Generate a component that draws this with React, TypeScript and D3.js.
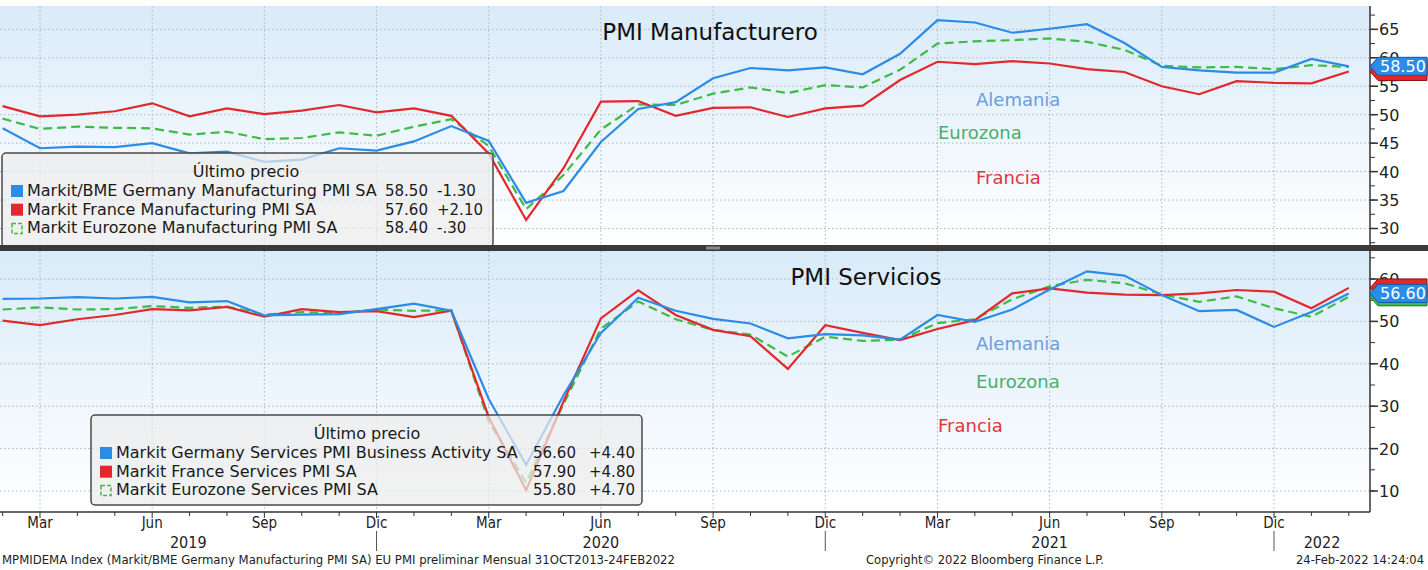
import React from "react";
import * as d3 from "d3";

// months Feb 2019 .. Feb 2022
const monthNames = ["Ene", "Feb", "Mar", "Abr", "May", "Jun", "Jul", "Ago", "Sep", "Oct", "Nov", "Dic"];
const firstMonth = 1; // Feb 2019
const yearLabels = ["2019", "2020", "2021", "2022"];

// PMI Manufacturero
const deMfg = [47.6, 44.1, 44.4, 44.3, 45.0, 43.2, 43.5, 41.7, 42.1, 44.1, 43.7,
  45.3, 48.0, 45.4, 34.5, 36.6, 45.2, 51.0, 52.2, 56.4, 58.2, 57.8, 58.3,
  57.1, 60.7, 66.6, 66.2, 64.4, 65.1, 65.9, 62.6, 58.4, 57.8, 57.4, 57.4,
  59.8, 58.5];
const frMfg = [51.5, 49.7, 50.0, 50.6, 52.0, 49.7, 51.1, 50.1, 50.7, 51.7, 50.4,
  51.1, 49.8, 43.2, 31.5, 40.6, 52.3, 52.4, 49.8, 51.2, 51.3, 49.6, 51.1,
  51.6, 56.1, 59.3, 58.9, 59.4, 59.0, 58.0, 57.5, 55.0, 53.6, 55.9, 55.6,
  55.5, 57.6];
const euMfg = [49.3, 47.5, 47.9, 47.7, 47.6, 46.5, 47.0, 45.7, 45.9, 46.9, 46.3,
  47.9, 49.2, 44.5, 33.4, 39.4, 47.4, 51.8, 51.7, 53.7, 54.8, 53.8, 55.2,
  54.8, 57.9, 62.5, 62.9, 63.1, 63.4, 62.8, 61.4, 58.6, 58.3, 58.4, 58.0,
  58.7, 58.4];

// PMI Servicios
const deSvc = [55.3, 55.4, 55.7, 55.4, 55.8, 54.5, 54.8, 51.4, 51.6, 51.7, 52.9,
  54.2, 52.5, 31.7, 16.2, 32.6, 47.3, 55.6, 52.5, 50.6, 49.5, 46.0, 47.0,
  46.7, 45.7, 51.5, 49.9, 52.8, 57.5, 61.8, 60.8, 56.2, 52.4, 52.7, 48.7,
  52.2, 56.6];
const frSvc = [50.2, 49.1, 50.5, 51.5, 52.9, 52.6, 53.4, 51.1, 52.9, 52.2, 52.4,
  51.0, 52.5, 27.4, 10.2, 31.1, 50.7, 57.3, 51.5, 48.0, 46.5, 38.8, 49.1,
  47.3, 45.6, 48.2, 50.3, 56.6, 57.8, 56.8, 56.3, 56.2, 56.6, 57.4, 57.0,
  53.1, 57.9];
const euSvc = [52.8, 53.3, 52.8, 52.9, 53.6, 53.2, 53.5, 51.6, 52.2, 51.9, 52.8,
  52.5, 52.6, 26.4, 12.0, 30.5, 48.3, 54.7, 50.5, 48.0, 46.9, 41.7, 46.4,
  45.4, 45.7, 49.6, 50.5, 55.2, 58.3, 59.8, 59.0, 56.4, 54.6, 55.9, 53.1,
  51.1, 55.8];

const mfgNames = ["Markit/BME Germany Manufacturing PMI SA", "Markit France Manufacturing PMI SA", "Markit Eurozone Manufacturing PMI SA"];
const svcNames = ["Markit Germany Services PMI Business Activity SA", "Markit France Services PMI SA", "Markit Eurozone Services PMI SA"];
const labelNames = ["Alemania", "Francia", "Eurozona"];

const mfgTicks = [30, 35, 40, 45, 50, 55, 60, 65];
const svcTicks = [10, 20, 30, 40, 50, 60];

const BLUE = "#2b8ce6";
const RED = "#e3282b";
const GREEN = "#3dbb45";
const FONT = "'DejaVu Sans', Verdana, sans-serif";
const COND = "'DejaVu Sans Condensed', 'DejaVu Sans', sans-serif";

const AXIS_X = 1370;
const n = deMfg.length;

const fmtVal = d3.format(".2f");
// Bloomberg style change: -1.30, +2.10, -.30
const fmtChg = (d: number) => (d < 0 ? "-" : "+") + Math.abs(d).toFixed(2).replace(/^0\./, ".");

function Panel({ top, bottom, y, ticks, minorStep, series, names, title, titleX, titleY, labels, legend }: any) {
  const x = d3.scaleLinear().domain([0, n - 1]).range([2.6, 1348.8]);
  const line = d3.line<number>().x((_, i) => x(i)).y((d) => y(d));
  const quarterIdx = d3.range(n).filter((i) => (firstMonth + i) % 3 === 2);
  const [lo, hi] = y.domain();
  const minor = d3.range(Math.ceil(lo / minorStep) * minorStep, hi, minorStep);
  const gid = "bg" + top;
  return (
    <g>
      <defs>
        <linearGradient id={gid} x1="0" y1="0" x2="0" y2="1">
          <stop offset="0" stopColor="#d9ebf9" />
          <stop offset="1" stopColor="#ffffff" />
        </linearGradient>
      </defs>
      <rect x={0} y={top} width={AXIS_X} height={bottom - top} fill={`url(#${gid})`} />
      {ticks.map((t: number) => (
        <line key={"h" + t} x1={0} x2={AXIS_X} y1={y(t)} y2={y(t)} stroke="#aab4bc" strokeDasharray="1.5,2.5" />
      ))}
      {quarterIdx.map((i) => (
        <line key={"v" + i} x1={x(i)} x2={x(i)} y1={top} y2={bottom} stroke="#aab4bc" strokeDasharray="1.5,2.5" />
      ))}
      <text x={titleX} y={titleY} fontFamily={FONT} fontSize={23} fill="#111" textAnchor="middle">{title}</text>
      {labels.map((l: any) => (
        <text key={l.text} x={l.x} y={l.y} fontFamily={FONT} fontSize={18} fill={l.color}>{l.text}</text>
      ))}
      <path d={line(series[2]) || ""} fill="none" stroke={GREEN} strokeWidth={2.2} strokeDasharray="9,5" />
      <path d={line(series[1]) || ""} fill="none" stroke={RED} strokeWidth={2.2} />
      <path d={line(series[0]) || ""} fill="none" stroke={BLUE} strokeWidth={2.2} />
      {/* legend box */}
      <g fontFamily={FONT} fontSize={16} fill="#1a1a1a">
        <rect x={legend.x} y={legend.y} width={legend.w} height={legend.h} rx={4}
          fill="rgba(236,236,236,0.72)" stroke="#4a4a4a" strokeWidth={1.5} />
        <text x={legend.x + legend.titleDx} y={legend.y + 24} textAnchor="middle">Último precio</text>
        {[0, 1, 2].map((r) => {
          const ry = legend.y + 43 + r * 18.7;
          const vals = series[r];
          const last = vals[vals.length - 1];
          const chg = last - vals[vals.length - 2];
          const col = [BLUE, RED, GREEN][r];
          return (
            <g key={r}>
              {r < 2 ? (
                <rect x={legend.x + 9} y={ry - 11} width={12} height={12} fill={col} />
              ) : (
                <rect x={legend.x + 10} y={ry - 10} width={10} height={10} fill="none" stroke={col} strokeWidth={1.5} strokeDasharray="4,2" />
              )}
              <text x={legend.x + 25} y={ry}>{names[r]}</text>
              <text x={legend.valX} y={ry} fontSize={15}>{fmtVal(last)}</text>
              <text x={legend.chgX} y={ry} fontSize={15}>{fmtChg(chg)}</text>
            </g>
          );
        })}
      </g>
      {/* right axis */}
      <rect x={AXIS_X} y={top} width={1428 - AXIS_X} height={bottom - top} fill="#fff" />
      <line x1={AXIS_X} x2={AXIS_X} y1={top} y2={bottom} stroke="#333" strokeWidth={1.5} />
      {minor.map((t: number) => (
        <line key={"m" + t} x1={AXIS_X} x2={AXIS_X + 5} y1={y(t)} y2={y(t)} stroke="#333" />
      ))}
      {ticks.map((t: number) => (
        <g key={"t" + t}>
          <line x1={AXIS_X} x2={AXIS_X + 8} y1={y(t)} y2={y(t)} stroke="#333" strokeWidth={1.5} />
          <text x={AXIS_X + 9} y={y(t) + 6} fontFamily={FONT} fontSize={16} fill="#222">{t}</text>
        </g>
      ))}
      {/* last value tags: green, red, blue on top */}
      {[2, 1, 0].map((r) => {
        const vals = series[r];
        const cy = y(vals[vals.length - 1]);
        const fill = [BLUE, RED, GREEN][r];
        const stroke = ["#0d5caa", "#8e1010", "#1d6b22"][r];
        const pts = [[AXIS_X, cy], [AXIS_X + 8, cy - 9], [1427, cy - 9], [1427, cy + 9], [AXIS_X + 8, cy + 9]];
        return (
          <g key={"tag" + r}>
            <polygon points={pts.map((p) => p.join(",")).join(" ")} fill={fill} stroke={stroke} strokeWidth={1} />
            {r === 0 && (
              <text x={AXIS_X + 10} y={cy + 6} fontFamily={FONT} fontSize={16} fill="#fff">{fmtVal(vals[vals.length - 1])}</text>
            )}
          </g>
        );
      })}
    </g>
  );
}

export default function App() {
  const x = d3.scaleLinear().domain([0, n - 1]).range([2.6, 1348.8]);
  const yTop = d3.scaleLinear().domain([27.1, 69.1]).range([245, 6]);
  const yBot = d3.scaleLinear().domain([5.05, 66.6]).range([512, 251]);

  const monthOf = (i: number) => (firstMonth + i) % 12;
  const quarterIdx = d3.range(n).filter((i) => monthOf(i) % 3 === 2);
  const decIdx = d3.range(n).filter((i) => monthOf(i) === 11);
  const bounds = [0, ...decIdx.map((i) => x(i)), AXIS_X];

  return (
    <svg width={1428} height={570} style={{ position: "absolute", left: 0, top: 0, background: "#fff" }}>
      <Panel top={6} bottom={245} y={yTop} ticks={mfgTicks} minorStep={2.5}
        series={[deMfg, frMfg, euMfg]} names={mfgNames}
        title="PMI Manufacturero" titleX={710} titleY={40}
        labels={[
          { text: labelNames[0], x: 976, y: 106, color: "#6b9ddf" },
          { text: labelNames[2], x: 938, y: 139, color: "#4aad6c" },
          { text: labelNames[1], x: 976, y: 184, color: "#e0363b" },
        ]}
        legend={{ x: 2, y: 153, w: 491, h: 94, titleDx: 244, valX: 385, chgX: 437 }} />
      <Panel top={251} bottom={512} y={yBot} ticks={svcTicks} minorStep={5}
        series={[deSvc, frSvc, euSvc]} names={svcNames}
        title="PMI Servicios" titleX={866} titleY={285}
        labels={[
          { text: labelNames[0], x: 976, y: 350, color: "#6b9ddf" },
          { text: labelNames[2], x: 976, y: 388, color: "#4aad6c" },
          { text: labelNames[1], x: 938, y: 432, color: "#e0363b" },
        ]}
        legend={{ x: 91, y: 415, w: 551, h: 90, titleDx: 276, valX: 533, chgX: 589 }} />

      {/* separator between panels */}
      <rect x={0} y={245} width={1428} height={6} fill="#3a3a3a" />
      <rect x={706} y={246.5} width={14} height={3} fill="#8a8a8a" />

      {/* x axis */}
      <line x1={0} x2={AXIS_X} y1={512} y2={512} stroke="#333" strokeWidth={1.5} />
      {d3.range(n).map((i) => (
        <line key={"xt" + i} x1={x(i)} x2={x(i)} y1={512} y2={quarterIdx.includes(i) ? 518 : 516} stroke="#333" />
      ))}
      <g fontFamily={COND} fontSize={15} fill="#222" textAnchor="middle">
        {quarterIdx.map((i) => (
          <text key={"ml" + i} x={x(i)} y={528}>{monthNames[monthOf(i)]}</text>
        ))}
        {yearLabels.map((yl, k) => (
          <text key={yl} x={(bounds[k] + bounds[k + 1]) / 2} y={548} fontSize={16}>{yl}</text>
        ))}
      </g>
      {decIdx.map((i) => (
        <line key={"sep" + i} x1={x(i)} x2={x(i)} y1={531} y2={551} stroke="#555" />
      ))}

      {/* footer */}
      <g fontFamily={COND} fontSize={12} fill="#222" style={{ whiteSpace: "pre" }}>
        <text x={2} y={564} textLength={673} lengthAdjust="spacingAndGlyphs">MPMIDEMA Index (Markit/BME Germany Manufacturing PMI SA) EU PMI preliminar  Mensual 31OCT2013-24FEB2022</text>
        <text x={866} y={564} textLength={238} lengthAdjust="spacingAndGlyphs">Copyright© 2022 Bloomberg Finance L.P.</text>
        <text x={1296} y={564} textLength={128} lengthAdjust="spacingAndGlyphs">24-Feb-2022 14:24:04</text>
      </g>
    </svg>
  );
}
